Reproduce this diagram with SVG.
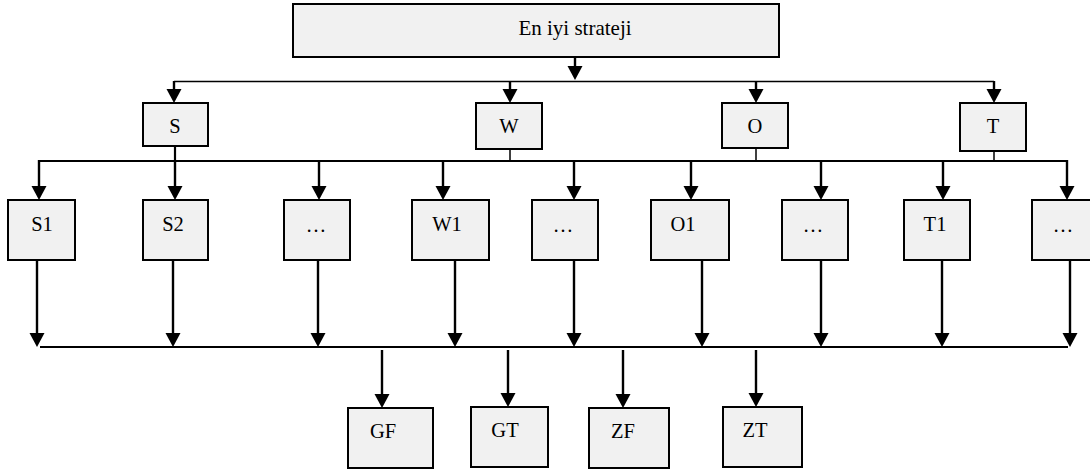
<svg xmlns="http://www.w3.org/2000/svg" width="1090" height="473" viewBox="0 0 1090 473">
  <style>
    .box { fill: #f1f1f1; stroke: #000; stroke-width: 2; }
    .lbl { font-family: "Liberation Serif", "Times New Roman", serif; font-size: 20.5px; fill: #000; text-anchor: middle; }
    .ln { stroke: #000; stroke-width: 2.2; fill: none; }
    .thin { stroke: #000; stroke-width: 1.5; fill: none; }
    .arr { stroke: #000; stroke-width: 2.4; fill: none; marker-end: url(#tip); }
  </style>
  <defs>
    <marker id="tip" markerUnits="userSpaceOnUse" markerWidth="16" markerHeight="16" refX="9" refY="7.5" orient="auto">
      <path d="M0,0 L14,7.5 L0,15 Z" fill="#000"/>
    </marker>
  </defs>
  <rect x="0" y="0" width="1090" height="473" fill="#fff"/>

  <!-- connectors -->
  <g id="connectors">
    <!-- top level -->
    <line class="arr" x1="575" y1="57" x2="575" y2="75"/>
    <line class="thin" x1="174" y1="81.5" x2="994" y2="81.5"/>
    <line class="arr" x1="174" y1="81" x2="174" y2="98"/>
    <line class="arr" x1="510" y1="81" x2="510" y2="98"/>
    <line class="arr" x1="756" y1="81" x2="756" y2="98"/>
    <line class="arr" x1="994" y1="81" x2="994" y2="98"/>

    <!-- second level -->
    <line class="ln" x1="39" y1="161" x2="1068" y2="161"/>
    <line class="ln" x1="175" y1="146" x2="175" y2="161"/>
    <line class="thin" x1="510" y1="149" x2="510" y2="161"/>
    <line class="thin" x1="756" y1="148" x2="756" y2="161"/>
    <line class="thin" x1="994" y1="151" x2="994" y2="161"/>
    <line class="arr" x1="39" y1="160" x2="39" y2="195"/>
    <line class="arr" x1="175" y1="160" x2="175" y2="195"/>
    <line class="arr" x1="319" y1="160" x2="319" y2="195"/>
    <line class="arr" x1="443" y1="160" x2="443" y2="195"/>
    <line class="arr" x1="574" y1="160" x2="574" y2="195"/>
    <line class="arr" x1="691" y1="160" x2="691" y2="195"/>
    <line class="arr" x1="821" y1="160" x2="821" y2="195"/>
    <line class="arr" x1="943" y1="160" x2="943" y2="195"/>
    <line class="arr" x1="1067" y1="160" x2="1067" y2="195"/>

    <!-- collecting line -->
    <line class="arr" x1="37" y1="260" x2="37" y2="342"/>
    <line class="arr" x1="173" y1="260" x2="173" y2="342"/>
    <line class="arr" x1="318" y1="260" x2="318" y2="342"/>
    <line class="arr" x1="455" y1="260" x2="455" y2="342"/>
    <line class="arr" x1="574" y1="260" x2="574" y2="342"/>
    <line class="arr" x1="702" y1="260" x2="702" y2="342"/>
    <line class="arr" x1="821" y1="260" x2="821" y2="342"/>
    <line class="arr" x1="942" y1="260" x2="942" y2="342"/>
    <line class="arr" x1="1070" y1="260" x2="1070" y2="342"/>
    <line class="ln" x1="40" y1="347" x2="1068" y2="347"/>

    <!-- outputs -->
    <line class="arr" x1="382" y1="350" x2="382" y2="403"/>
    <line class="arr" x1="508" y1="350" x2="508" y2="402"/>
    <line class="arr" x1="623" y1="350" x2="623" y2="403"/>
    <line class="arr" x1="756" y1="350" x2="756" y2="402"/>
  </g>

  <g id="root">
    <rect class="box" x="293" y="4" width="486" height="53"/>
    <text class="lbl" x="575" y="35" style="font-size:21px">En iyi strateji</text>
  </g>

  <g id="S"><rect class="box" x="143" y="103" width="65" height="43"/><text class="lbl" x="175" y="133">S</text></g>
  <g id="W"><rect class="box" x="476" y="103" width="66" height="46"/><text class="lbl" x="509" y="133">W</text></g>
  <g id="O"><rect class="box" x="722" y="103" width="66" height="45"/><text class="lbl" x="755" y="133">O</text></g>
  <g id="T"><rect class="box" x="960" y="103" width="66" height="48"/><text class="lbl" x="993" y="133">T</text></g>

  <g id="S1"><rect class="box" x="8" y="200" width="67" height="60"/><text class="lbl" x="42" y="231">S1</text></g>
  <g id="S2"><rect class="box" x="143" y="200" width="65" height="60"/><text class="lbl" x="173" y="231">S2</text></g>
  <g id="S-more"><rect class="box" x="284" y="200" width="66" height="60"/><text class="lbl" x="316" y="232">…</text></g>
  <g id="W1"><rect class="box" x="412" y="200" width="77" height="60"/><text class="lbl" x="447" y="231">W1</text></g>
  <g id="W-more"><rect class="box" x="532" y="200" width="66" height="60"/><text class="lbl" x="563" y="232">…</text></g>
  <g id="O1"><rect class="box" x="651" y="200" width="78" height="60"/><text class="lbl" x="683" y="231">O1</text></g>
  <g id="O-more"><rect class="box" x="782" y="200" width="66" height="60"/><text class="lbl" x="813" y="232">…</text></g>
  <g id="T1"><rect class="box" x="904" y="200" width="66" height="60"/><text class="lbl" x="935" y="231">T1</text></g>
  <g id="T-more"><rect class="box" x="1032" y="200" width="66" height="60"/><text class="lbl" x="1063" y="232">…</text></g>

  <g id="GF"><rect class="box" x="348" y="408" width="85" height="60"/><text class="lbl" x="383" y="438">GF</text></g>
  <g id="GT"><rect class="box" x="471" y="407" width="77" height="60"/><text class="lbl" x="505" y="437">GT</text></g>
  <g id="ZF"><rect class="box" x="589" y="408" width="80" height="60"/><text class="lbl" x="623" y="438">ZF</text></g>
  <g id="ZT"><rect class="box" x="723" y="407" width="79" height="60"/><text class="lbl" x="755" y="437">ZT</text></g>
</svg>
